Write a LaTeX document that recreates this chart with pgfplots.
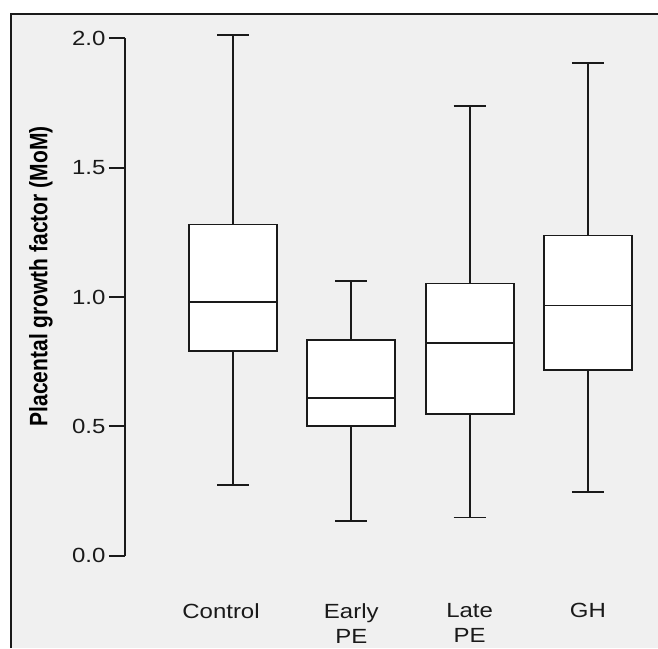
\documentclass[border=0pt]{standalone}
\usepackage{fontspec}
\setmainfont{Liberation Sans}
\newfontfamily\stretchfont[FakeStretch=1.17]{Liberation Sans}
\usepackage{graphicx}
\usepackage{pgfplots}
\usepgfplotslibrary{statistics}
\pgfplotsset{compat=1.18}
\definecolor{bg}{HTML}{F0F0F0}
\definecolor{ink}{HTML}{1A1A1A}
\begin{document}
\begin{tikzpicture}[x=1pt,y=1pt]
\useasboundingbox (0,0) rectangle (658,648);
\fill[white] (0,0) rectangle (658,648);
\fill[bg] (11,0) rectangle (658,634);
\draw[ink, line width=2pt] (11,0) -- (11,634) -- (658,634);
\begin{axis}[
  at={(125pt,92.3pt)}, anchor=south west,
  x=118.3pt, y=258.7pt,
  xmin=0.087, xmax=4.9, ymin=0, ymax=2,
  clip=false,
  boxplot/draw direction=y,
  axis y line*=left, axis x line*=bottom,
  x axis line style={draw=none},
  y axis line style={ink, line width=1.8pt, -},
  xtick={1,2,3,4},
  xticklabels={{\mbox{Control\hspace{24pt}}},{Early\\PE},{Late\\PE},GH},
  xtick style={draw=none},
  xticklabel style={align=center, font=\stretchfont\fontsize{20.5}{25}\selectfont, text=ink, yshift=-28pt},
  ytick={0,0.5,1,1.5,2},
  yticklabels={0.0,0.5,1.0,1.5,2.0},
  ytick style={ink, line width=1.8pt},
  yticklabel style={font=\stretchfont\fontsize{20.5}{24}\selectfont, text=ink},
  tick align=outside, major tick length=16pt,
  every axis y label/.style={at={([xshift=-84pt]rel axis cs:0,0.54)}, anchor=center, rotate=90},
  ylabel={\fontsize{21}{24}\selectfont\bfseries\scalebox{1}[1.2]{Placental growth factor (MoM)}},
  /pgf/number format/assume math mode=true,
]
\addplot[ink, line width=1.8pt, fill=white, boxplot prepared={draw position=1, lower whisker=0.274, lower quartile=0.790, median=0.981, upper quartile=1.280, upper whisker=2.014, box extend=0.744, whisker extend=0.27}] coordinates {};
\addplot[ink, line width=1.8pt, fill=white, boxplot prepared={draw position=2, lower whisker=0.134, lower quartile=0.501, median=0.610, upper quartile=0.834, upper whisker=1.062, box extend=0.744, whisker extend=0.27}] coordinates {};
\addplot[ink, line width=1.8pt, fill=white, boxplot prepared={draw position=3, lower whisker=0.148, lower quartile=0.547, median=0.821, upper quartile=1.052, upper whisker=1.739, box extend=0.744, whisker extend=0.27}] coordinates {};
\addplot[ink, line width=1.8pt, fill=white, boxplot prepared={draw position=4, lower whisker=0.245, lower quartile=0.717, median=0.967, upper quartile=1.238, upper whisker=1.905, box extend=0.744, whisker extend=0.27}] coordinates {};
\end{axis}
\end{tikzpicture}
\end{document}
